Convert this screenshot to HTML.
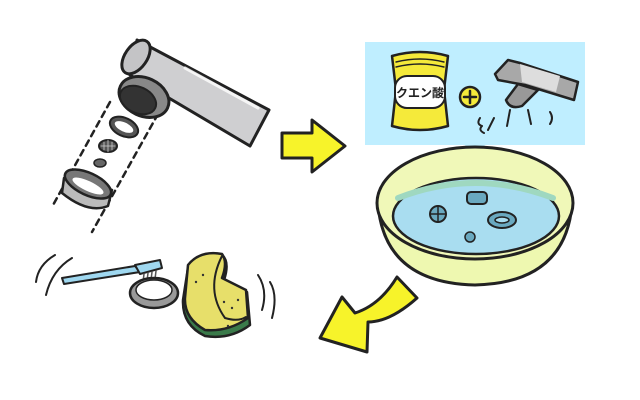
<!DOCTYPE html>
<html><head><meta charset="utf-8"><style>html,body{margin:0;padding:0;background:#fff}svg{display:block}</style></head><body>
<svg width="640" height="400" viewBox="0 0 640 400" xmlns="http://www.w3.org/2000/svg" stroke-linejoin="round" stroke-linecap="round">
<line x1="110" y1="102" x2="52" y2="207" stroke="#222" stroke-width="2.5" stroke-dasharray="6,5"/>
<line x1="158" y1="114" x2="92" y2="232" stroke="#222" stroke-width="2.5" stroke-dasharray="6,5"/>
<!-- pipe -->
<polygon points="137,40 269,110 250,146 130,75" fill="#cfcfd1" stroke="#222" stroke-width="3"/>
<line x1="185" y1="68" x2="258" y2="108" stroke="#fff" stroke-width="3" opacity="0.8"/>
<ellipse cx="136" cy="57" rx="19" ry="11" transform="rotate(-55 136 57)" fill="#c4c4c6" stroke="#222" stroke-width="3"/>
<!-- head -->
<ellipse cx="144" cy="97" rx="26" ry="19" transform="rotate(25 144 97)" fill="#888" stroke="#222" stroke-width="3"/>
<ellipse cx="138" cy="100" rx="19" ry="13" transform="rotate(25 138 100)" fill="#333" stroke="#222" stroke-width="2"/>
<ellipse cx="124" cy="127" rx="15" ry="9" transform="rotate(25 124 127)" fill="#555" stroke="#222" stroke-width="2"/>
<ellipse cx="124" cy="127" rx="10" ry="4.5" transform="rotate(25 124 127)" fill="#fff"/>
<ellipse cx="108" cy="146" rx="9" ry="6" fill="#555" stroke="#222" stroke-width="2"/>
<path d="M101,146 H115 M108,140 V152 M104,142 V150 M112,142 V150" stroke="#ccc" stroke-width="0.8"/>
<ellipse cx="100" cy="163" rx="6" ry="4" fill="#666" stroke="#222" stroke-width="1.5"/>
<path d="M64,178 L62,193 Q88,214 108,206 L112,190 Z" fill="#bbb" stroke="#222" stroke-width="2.5"/>
<ellipse cx="88" cy="184" rx="25" ry="11" transform="rotate(25 88 184)" fill="#777" stroke="#222" stroke-width="2.5"/>
<ellipse cx="88" cy="186" rx="17" ry="5" transform="rotate(25 88 186)" fill="#fff"/>
<!-- right arrow -->
<polygon points="282,133 312,133 312,120 345,146 312,172 312,158 282,158" fill="#f7f32a" stroke="#222" stroke-width="3"/>
<!-- blue panel -->
<rect x="365" y="42" width="220" height="103" fill="#bfeeff"/>
<polygon points="465,145 485,145 475,160" fill="#bfeeff"/>
<!-- bag -->
<path d="M392,56 Q420,48 448,56 L444,90 L448,126 Q420,134 392,126 L396,90 Z" fill="#f5ea3a" stroke="#222" stroke-width="2.5"/>
<path d="M396,62 Q420,56 444,62 M396,67 Q420,61 444,67" stroke="#222" stroke-width="1.5" fill="none"/>
<rect x="395" y="76" width="50" height="32" rx="12" fill="#fff" stroke="#222" stroke-width="2"/>
<text x="420" y="97" font-family="Liberation Sans, 'Noto Sans CJK JP', sans-serif" font-size="12" font-weight="bold" text-anchor="middle" fill="#222">クエン酸</text>
<circle cx="470" cy="97" r="10" fill="#f5ea3a" stroke="#222" stroke-width="2.5"/>
<path d="M464,97 H476 M470,91 V103" stroke="#222" stroke-width="2.5"/>
<!-- faucet -->
<polygon points="495,74 508,60 520,63 578,82 574,100 525,85 498,80" fill="#a8a8a8" stroke="#222" stroke-width="2.5"/>
<polygon points="520,64 560,76 556,92 522,82" fill="#ddd"/>
<path d="M518,84 L506,100 Q510,110 522,106 L538,90 Z" fill="#999" stroke="#222" stroke-width="2.5"/>
<path d="M480,118 q-4,6 2,8 q-4,4 2,7 M494,118 l-6,12 M510,110 l-3,16 M528,110 l3,14 M550,112 q4,6 0,12" stroke="#222" stroke-width="2" fill="none"/>
<!-- basin -->
<path d="M378,205 Q385,283 475,285 Q565,283 572,205 Z" fill="#eef8b0" stroke="#222" stroke-width="3"/>
<ellipse cx="475" cy="203" rx="98" ry="56" fill="#f0f8b8" stroke="#222" stroke-width="3"/>
<ellipse cx="476" cy="216" rx="83" ry="38" fill="#a9ddf0" stroke="#222" stroke-width="2.5"/>
<path d="M398,198 Q475,168 553,198" stroke="#9fd8c0" stroke-width="6" fill="none"/>
<rect x="467" y="192" width="20" height="12" rx="4" fill="#6aa9c0" stroke="#222" stroke-width="2"/>
<circle cx="438" cy="214" r="8" fill="#6aa9c0" stroke="#222" stroke-width="2"/>
<path d="M438,206 V222 M430,214 H446" stroke="#222" stroke-width="1.5"/>
<ellipse cx="502" cy="220" rx="14" ry="8" fill="#6aa9c0" stroke="#222" stroke-width="2"/>
<ellipse cx="502" cy="220" rx="7" ry="3" fill="#a9ddf0" stroke="#222" stroke-width="1.5"/>
<circle cx="470" cy="237" r="5" fill="#6aa9c0" stroke="#222" stroke-width="1.5"/>
<!-- curved arrow -->
<path d="M397,277 L417,298 Q390,322 368,322 L367,352 L320,338 L342,297 L355,313 Q380,305 397,277 Z" fill="#f7f32a" stroke="#222" stroke-width="3"/>
<!-- brush -->
<polygon points="62,278 135,266 140,272 64,284" fill="#9fd8f0" stroke="#222" stroke-width="2"/>
<path d="M135,265 L160,260 L162,268 L140,274 Z" fill="#9fd8f0" stroke="#222" stroke-width="2"/>
<path d="M144,274 l-1,8 M148,273 l-1,8 M152,272 l-1,8 M156,271 l-1,8" stroke="#555" stroke-width="1.5"/>
<ellipse cx="154" cy="293" rx="24" ry="15" fill="#999" stroke="#222" stroke-width="2.5"/>
<ellipse cx="154" cy="290" rx="18" ry="10" fill="#fff" stroke="#222" stroke-width="1.5"/>
<!-- sponge -->
<path d="M188,268 Q200,252 222,255 Q230,262 224,280 Q236,288 247,292 L250,325 Q230,340 205,336 Q182,325 183,300 Z" fill="#3a7a4a" stroke="#222" stroke-width="2.5"/>
<path d="M188,265 Q200,250 222,254 Q228,262 222,278 Q236,285 246,290 L248,318 Q228,332 205,330 Q184,318 185,298 Z" fill="#e7df6a" stroke="#222" stroke-width="2.5"/>
<path d="M222,256 Q205,290 225,318 Q238,322 246,317" stroke="#222" stroke-width="2" fill="none"/>
<g fill="#333"><circle cx="196" cy="282" r="1.2"/><circle cx="203" cy="275" r="1.2"/><circle cx="224" cy="302" r="1.2"/><circle cx="232" cy="308" r="1.2"/><circle cx="238" cy="300" r="1.2"/><circle cx="228" cy="326" r="1.2"/></g>
<path d="M55,255 Q38,265 36,282 M72,258 Q52,270 46,295 M258,275 Q268,290 262,310 M270,282 Q278,295 272,318" stroke="#222" stroke-width="2" fill="none"/>
</svg>
</body></html>
